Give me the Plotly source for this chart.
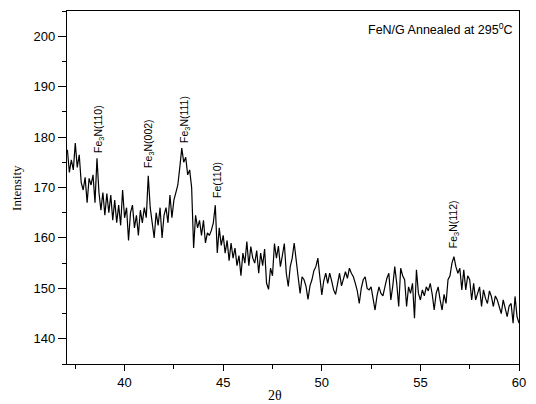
import numpy as np
import plotly.graph_objects as go

# 2-theta sampling grid (degrees) and hand-read intensities
theta_start = 37.1
theta_step = 0.1
intensity = [
    177.5, 173.0, 175.5, 173.5, 178.8, 174.0, 176.5, 171.0, 169.5, 172.0,   # 37.1-38.0
    167.0, 171.8, 170.5, 172.5, 167.0, 175.8, 169.0, 165.5, 169.0, 164.5,   # 38.1-39.0
    168.8, 165.0, 168.5, 163.5, 167.5, 163.0, 166.5, 162.5, 169.5, 164.0,   # 39.1-40.0
    166.0, 159.5, 165.0, 166.5, 162.0, 164.5, 160.5, 165.5, 163.0, 166.0,   # 40.1-41.0
    164.0, 172.3, 166.0, 163.0, 160.0, 165.0, 162.5, 166.0, 160.0, 164.5,   # 41.1-42.0
    166.0, 163.0, 168.5, 164.0, 167.5, 169.0, 170.5, 174.0, 177.8, 175.0,   # 42.1-43.0
    176.0, 172.5, 173.5, 170.0, 158.0, 164.5, 162.0, 163.5, 160.5, 163.5,   # 43.1-44.0
    159.0, 161.0, 160.5, 161.5, 163.0, 166.5, 157.0, 162.0, 158.5, 160.5,   # 44.1-45.0
    157.0, 159.5, 155.5, 159.0, 156.0, 158.0, 154.5, 156.5, 152.5, 157.0,   # 45.1-46.0
    155.0, 159.3, 154.5, 158.3, 156.0, 155.0, 157.5, 153.0, 157.0, 154.5,   # 46.1-47.0
    157.8, 151.0, 149.8, 154.0, 152.5, 158.9, 156.0, 158.4, 154.3, 156.5,   # 47.1-48.0
    158.9, 153.0, 150.4, 154.3, 156.0, 159.0, 155.0, 152.3, 149.0, 152.3,   # 48.1-49.0
    151.7, 150.4, 147.8, 150.5, 151.7, 153.5, 154.3, 156.0, 152.3, 148.7,   # 49.1-50.0
    151.5, 153.0, 151.0, 153.0, 151.5, 149.7, 148.8, 151.0, 153.0, 150.5,   # 50.1-51.0
    151.7, 153.3, 152.0, 154.0, 153.0, 152.3, 151.0, 149.5, 147.0, 150.0,   # 51.1-52.0
    151.7, 152.3, 150.0, 149.7, 150.3, 148.0, 145.7, 148.5, 150.3, 149.0,   # 52.1-53.0
    148.5, 150.3, 152.0, 153.0, 147.7, 150.5, 154.3, 151.0, 146.4, 154.0,   # 53.1-54.0
    152.5, 151.7, 146.4, 150.3, 149.0, 151.0, 144.1, 153.7, 149.0, 147.7,   # 54.1-55.0
    149.7, 148.5, 150.3, 149.5, 151.0, 148.8, 145.7, 149.0, 150.3, 147.7,   # 55.1-56.0
    145.7, 148.8, 147.0, 151.7, 152.5, 155.0, 156.3, 154.3, 153.0, 154.0,   # 56.1-57.0
    149.7, 153.7, 149.7, 152.5, 151.7, 147.7, 151.0, 147.7, 149.0, 150.3,   # 57.1-58.0
    146.4, 149.7, 148.0, 147.0, 149.5, 148.4, 146.4, 148.5, 147.7, 146.5,   # 58.1-59.0
    145.0, 147.7, 146.0, 144.4, 146.5, 147.0, 143.1, 148.4, 144.4, 143.1,   # 59.1-60.0
]
two_theta = np.round(theta_start + theta_step * np.arange(len(intensity)), 2)

# peak labels
peak_labels = ["Fe<sub>3</sub>N(110)", "Fe<sub>3</sub>N(002)", "Fe<sub>3</sub>N(111)",
               "Fe(110)", "Fe<sub>3</sub>N(112)"]
peak_x = [38.69, 41.24, 43.03, 44.68, 56.71]
peak_y = [176.4, 173.5, 178.4, 167.5, 157.6]

x_ticks = [40, 45, 50, 55, 60]
y_ticks = [140, 150, 160, 170, 180, 190, 200]

fig = go.Figure()
fig.add_trace(go.Scatter(x=two_theta, y=intensity, mode="lines",
                         line=dict(color="black", width=1.2), showlegend=False))

for t, px, py in zip(peak_labels, peak_x, peak_y):
    fig.add_annotation(x=px, y=py, text=t, textangle=-90, showarrow=False,
                       xanchor="center", yanchor="bottom",
                       font=dict(family="Liberation Sans, Arial", size=10.5, color="black"))

fig.add_annotation(xref="paper", yref="paper", x=0.992, y=0.949,
                   text="FeN/G Annealed at 295<sup>0</sup>C", showarrow=False,
                   xanchor="right", yanchor="middle",
                   font=dict(family="Liberation Sans, Arial", size=12.5, color="black"))

fig.add_annotation(xref="paper", yref="paper", x=0.46, y=-0.09,
                   text="2θ", showarrow=False, xanchor="center", yanchor="middle",
                   font=dict(family="Liberation Serif, Times New Roman", size=14, color="black"))

fig.add_annotation(xref="paper", yref="paper", x=-0.112, y=0.5,
                   text="Intensity", showarrow=False, textangle=-90,
                   xanchor="center", yanchor="middle",
                   font=dict(family="Liberation Serif, Times New Roman", size=13, color="black"))

axis_common = dict(showline=True, linecolor="black", linewidth=1.3, mirror=True,
                   showgrid=False, zeroline=False, ticks="outside", tickcolor="black",
                   tickwidth=1, tickfont=dict(family="Liberation Sans, Arial", size=13, color="black"))

fig.update_xaxes(range=[37.08, 60], tickvals=x_ticks, ticklen=6,
                 minor=dict(ticks="outside", ticklen=4, dtick=2.5, tick0=0, tickcolor="black"),
                 **axis_common)
fig.update_yaxes(range=[135, 205], tickvals=y_ticks, ticklen=8,
                 minor=dict(ticks="outside", ticklen=4, dtick=5, tick0=0, tickcolor="black"),
                 **axis_common)

fig.update_layout(width=536, height=404, margin=dict(l=67, r=10, t=11, b=40),
                  plot_bgcolor="white", paper_bgcolor="white")

fig.write_html("out.html")
